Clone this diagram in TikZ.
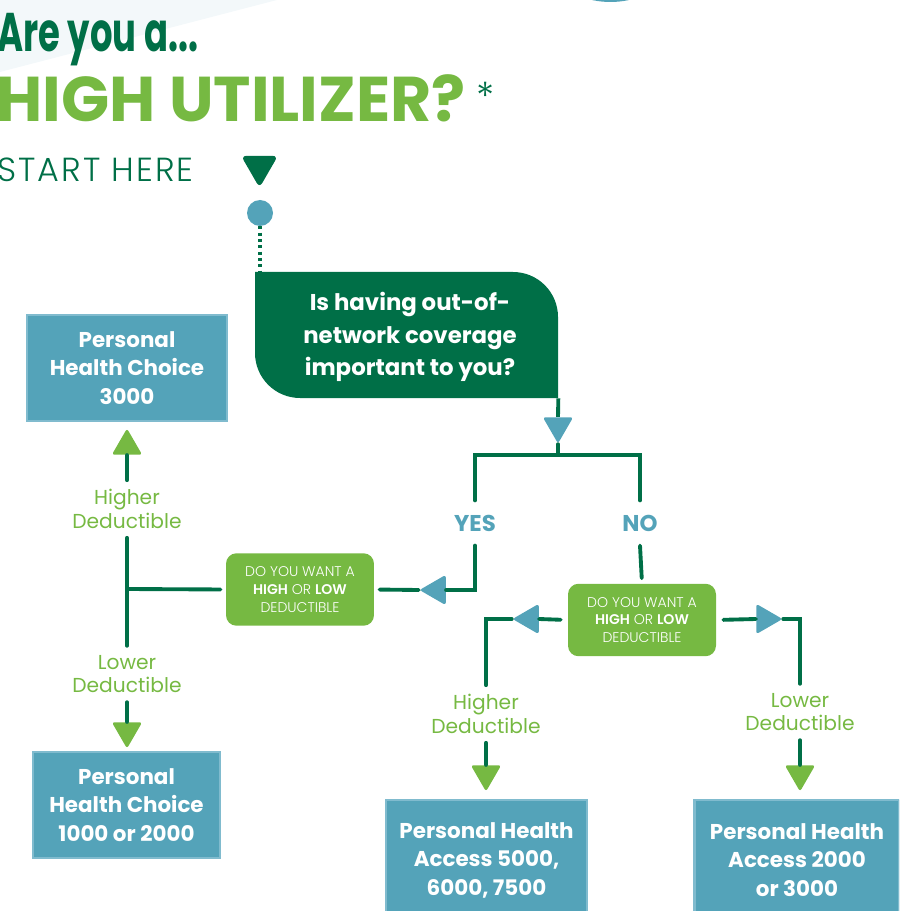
\documentclass[tikz,border=0pt]{standalone}
\usepackage{fontspec}
\setmainfont{Poppins}
\newfontfamily\condfont[FakeStretch=0.65]{Poppins}
\IfFontExistsTF{Poppins Light}{\newfontfamily\lightfont{Poppins Light}}{\newfontfamily\lightfont{Poppins}}
\usepackage {tikz}
\usetikzlibrary {positioning}
\usetikzlibrary{calc}
\usetikzlibrary{shapes.geometric}

\definecolor{dkgreen}{RGB}{0,111,71}
\definecolor{ltgreen}{RGB}{118,185,66}
\definecolor{tealblue}{RGB}{84,163,185}
\definecolor{tealedge}{RGB}{128,187,206}
\definecolor{faint}{RGB}{243,248,250}

\tikzset{
    link/.style={draw=dkgreen, line width=2.2pt, line cap=round},
    plan/.style={draw=tealedge, fill=tealblue, line width=1.6pt, text=white, align=center,
        font=\bfseries\fontsize{12.2}{16.2}\selectfont},
    ask/.style={fill=ltgreen, rounded corners=6pt, text=white, align=center,
        minimum width=2.96cm, minimum height=1.45cm, font=\lightfont\fontsize{8}{10.2}\selectfont},
    pick/.style={text=ltgreen, align=center, inner sep=5pt, font=\fontsize{11.5}{13.6}\selectfont},
    answer/.style={text=tealblue, inner ysep=8pt, font=\bfseries\fontsize{13}{15}\selectfont},
    tri/.style={regular polygon, regular polygon sides=3, minimum size=0.7cm, inner sep=0pt, rounded corners=1.5pt},
}

\begin{document}
\begin{tikzpicture}[x=0.02cm, y=0.02cm]

    \useasboundingbox (0,0) rectangle (899,-911);
    \clip (0,0) rectangle (899,-911);

    \fill[faint] (0,0) -- (277,0) -- (0,-72) -- cycle;
    \fill[tealblue] (610.5,84) circle (86);

    \node[anchor=base west, inner sep=0pt, text=dkgreen, font=\condfont\bfseries\fontsize{31}{31}\selectfont] (are) at (-3,-52) {Are you a...};
    \node[anchor=base west, inner sep=0pt, text=ltgreen, font=\bfseries\fontsize{36}{36}\selectfont] (title) at (-4,-122) {HIGH UTILIZER?};
    \node[anchor=base, inner sep=0pt, text=dkgreen, font=\lightfont\fontsize{22}{22}\selectfont] (star) at (486,-111) {*};
    \node[anchor=base west, inner sep=0pt, text=dkgreen, font=\lightfont\addfontfeatures{LetterSpace=6}\fontsize{19}{19}\selectfont] (start) at (-3,-182) {START HERE};

    \node[tri, fill=dkgreen, shape border rotate=180, minimum size=0.85cm, rounded corners=3pt] (go) at (259.5,-166.5) {};
    \node[circle, fill=tealblue, minimum size=0.52cm, inner sep=0pt] (dot) at (260,-213) {};

    \coordinate (qnw) at (255,-272);
    \coordinate (qse) at (558,-398);
    \fill[dkgreen] (qnw) -- (513,-272) arc[start angle=90, end angle=0, radius=45] -- (qse)
        -- (300,-398) arc[start angle=270, end angle=180, radius=45] -- cycle;
    \node[minimum width=6.06cm, minimum height=2.52cm, text=white, align=center,
        font=\bfseries\fontsize{13}{18.3}\selectfont] (q) at ($(qnw)!0.5!(qse)$)
        {};
    \node[text=white, align=center, font=\bfseries\fontsize{13}{18.3}\selectfont] (qtext) at (410,-337)
        {Is having out-of-\\network coverage\\important to you?};

    \draw[link, line cap=butt, dash pattern=on 1.7pt off 1.9pt] (dot.south) -- (dot.south |- qnw);

    \node[tri, fill=tealblue, shape border rotate=180] (tq) at (558,-426) {};
    \coordinate (split) at (558,-455);

    \node[answer] (yes) at (475,-523) {YES};
    \node[answer] (no) at (640,-523) {NO};

    \node[ask] (ask1) at (300,-589.5) {DO YOU WANT A\\\textbf{HIGH} OR \textbf{LOW}\\DEDUCTIBLE};
    \node[ask] (ask2) at (642,-620) {DO YOU WANT A\\\textbf{HIGH} OR \textbf{LOW}\\DEDUCTIBLE};

    \node[tri, fill=tealblue, shape border rotate=90] (tyes) at (437,-590) {};
    \node[tri, fill=tealblue, shape border rotate=90] (tlow) at (530,-619) {};
    \node[tri, fill=tealblue, shape border rotate=-90] (thigh) at (765,-619) {};

    \coordinate (fork) at (127,-589);
    \node[pick] (hi1) at (127,-509) {Higher\\Deductible};
    \node[pick] (lo1) at (127,-674) {Lower\\Deductible};
    \node[pick] (hi2) at (486,-714) {Higher\\Deductible};
    \node[pick] (lo2) at (800,-712) {Lower\\Deductible};

    \node[tri, fill=ltgreen] (tup) at (127,-446) {};
    \node[tri, fill=ltgreen, shape border rotate=180] (tdn1) at (127,-731) {};
    \node[tri, fill=ltgreen, shape border rotate=180] (tdn2) at (486,-774) {};
    \node[tri, fill=ltgreen, shape border rotate=180] (tdn3) at (800,-774) {};

    \node[plan, minimum width=4cm, minimum height=2.12cm] (pc3000) at (127,-368) {Personal\\Health Choice\\3000};
    \node[plan, minimum width=3.74cm, minimum height=2.12cm] (pc1000) at (126.5,-805) {Personal\\Health Choice\\1000 or 2000};
    \node[plan, minimum width=4.02cm, minimum height=2.4cm] (pa5000) at (486.5,-860) {Personal Health\\Access 5000,\\6000, 7500};
    \node[plan, minimum width=4.1cm, minimum height=2.4cm] (pa2000) at (797,-860) {Personal Health\\Access 2000\\or 3000};

    \draw[link, line cap=butt] (q.south east) -- (tq.north);
    \draw[link] (tq.south) -- (split);
    \draw[link] (yes.north) |- (split) -| (no.north);
    \draw[link] (yes.south) |- (tyes.east);
    \draw[link, shorten >=3pt] (tyes.west) -- (ask1.east);
    \draw[link, shorten <=3pt] (ask1.west) -- (fork);
    \draw[link] (fork) -- (hi1.south);
    \draw[link] (fork) -- (lo1.north);
    \draw[link] (hi1.north) -- (tup.south);
    \draw[link] (lo1.south) -- (tdn1.north);
    \draw[link, shorten >=3pt] (no.south) -- (ask2.north);
    \draw[link, shorten <=4pt] (ask2.west) -- (tlow.east);
    \draw[link] (tlow.west) -| (hi2.north);
    \draw[link, shorten <=4pt] (ask2.east) -- (thigh.west);
    \draw[link] (thigh.east) -| (lo2.north);
    \draw[link] (hi2.south) -- (tdn2.north);
    \draw[link] (lo2.south) -- (tdn3.north);

\end{tikzpicture}
\end{document}
